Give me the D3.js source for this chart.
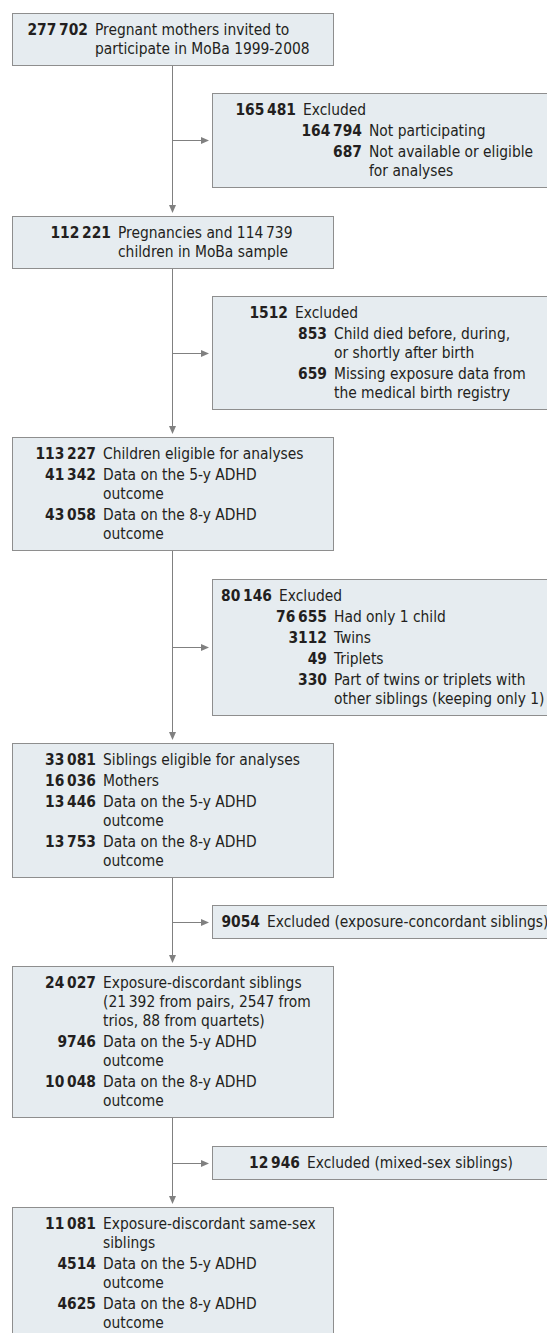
<!DOCTYPE html>
<html>
<head>
<meta charset="utf-8">
<title>MoBa sibling flowchart</title>
<style>
body { margin: 0; background: #fff; }
text { font-family: "DejaVu Sans Condensed", "DejaVu Sans", sans-serif; font-stretch: condensed; font-size: 15.4px; fill: #231f20; }
text.num { font-weight: bold; }
</style>
</head>
<body>
<script src="https://cdn.jsdelivr.net/npm/d3@7/dist/d3.min.js"></script>
<script>

var width  = 547;
var height = 1333;

// counts and labels, one pair of arrays per box
var invitedN      = [277702];
var invitedText   = [["Pregnant mothers invited to", "participate in MoBa 1999-2008"]];
var excl1N        = [165481, 164794, 687];
var excl1Text     = [["Excluded"], ["Not participating"], ["Not available or eligible", "for analyses"]];
var sampleN       = [112221];
var sampleText    = [["Pregnancies and 114\u2009739", "children in MoBa sample"]];
var excl2N        = [1512, 853, 659];
var excl2Text     = [["Excluded"], ["Child died before, during,", "or shortly after birth"], ["Missing exposure data from", "the medical birth registry"]];
var eligibleN     = [113227, 41342, 43058];
var eligibleText  = [["Children eligible for analyses"], ["Data on the 5-y ADHD", "outcome"], ["Data on the 8-y ADHD", "outcome"]];
var excl3N        = [80146, 76655, 3112, 49, 330];
var excl3Text     = [["Excluded"], ["Had only 1 child"], ["Twins"], ["Triplets"], ["Part of twins or triplets with", "other siblings (keeping only 1)"]];
var siblingsN     = [33081, 16036, 13446, 13753];
var siblingsText  = [["Siblings eligible for analyses"], ["Mothers"], ["Data on the 5-y ADHD", "outcome"], ["Data on the 8-y ADHD", "outcome"]];
var excl4N        = [9054];
var excl4Text     = [["Excluded (exposure-concordant siblings)"]];
var discordantN   = [24027, 9746, 10048];
var discordantText = [["Exposure-discordant siblings", "(21\u2009392 from pairs, 2547 from", "trios, 88 from quartets)"], ["Data on the 5-y ADHD", "outcome"], ["Data on the 8-y ADHD", "outcome"]];
var excl5N        = [12946];
var excl5Text     = [["Excluded (mixed-sex siblings)"]];
var sameSexN      = [11081, 4514, 4625];
var sameSexText   = [["Exposure-discordant same-sex", "siblings"], ["Data on the 5-y ADHD", "outcome"], ["Data on the 8-y ADHD", "outcome"]];

// layout
var mainX = 12, mainW = 321;
var exclX = 212, exclW = 360;
var trunkX = 172.5;
var lineH = 19, itemGap = 2, padY = 7, boxGap = 28.3, top0 = 13;
var textGap = 7;

// numX: right edge of the first number, right edge of the following numbers
var boxes = [
	{ n: invitedN,    t: invitedText,    side: "main", numX: [88] },
	{ n: excl1N,      t: excl1Text,      side: "excl", numX: [296, 362] },
	{ n: sampleN,     t: sampleText,     side: "main", numX: [111] },
	{ n: excl2N,      t: excl2Text,      side: "excl", numX: [288, 327] },
	{ n: eligibleN,   t: eligibleText,   side: "main", numX: [96, 96] },
	{ n: excl3N,      t: excl3Text,      side: "excl", numX: [272, 327] },
	{ n: siblingsN,   t: siblingsText,   side: "main", numX: [96, 96] },
	{ n: excl4N,      t: excl4Text,      side: "excl", numX: [260] },
	{ n: discordantN, t: discordantText, side: "main", numX: [96, 96] },
	{ n: excl5N,      t: excl5Text,      side: "excl", numX: [300] },
	{ n: sameSexN,    t: sameSexText,    side: "main", numX: [96, 96] }
];

var fmt = function(n){
	return n >= 10000 ? d3.format(",")(n).replace(/,/g, "\u2009") : String(n);
};

// stack the boxes
var y = top0;
boxes.forEach(function(b){
	var lines = d3.sum(b.t, function(d){ return d.length; });
	b.y = Math.round(y);
	b.h = padY * 2 + lines * lineH + itemGap * (b.t.length - 1);
	b.x = b.side === "main" ? mainX : exclX;
	b.w = b.side === "main" ? mainW : exclW;
	y += b.h + boxGap;
});

var svg = d3.select("body")
			.append("svg")
			.attr("width", width)
			.attr("height", height);

// connectors
var lineColor = "#808080";
var links = svg.append("g");
var mains = boxes.filter(function(b){ return b.side === "main"; });

function arrowDown(x, yTip){
	return "M" + (x - 3.5) + "," + (yTip - 8) + "L" + (x + 3.5) + "," + (yTip - 8) + "L" + x + "," + yTip + "Z";
}
function arrowRight(xTip, y){
	return "M" + (xTip - 8) + "," + (y - 3.5) + "L" + (xTip - 8) + "," + (y + 3.5) + "L" + xTip + "," + y + "Z";
}

for (var i = 1; i < mains.length; i++) {
	var a = mains[i - 1], b = mains[i];
	var tip = b.y - 3;
	links.append("line")
		.attr("x1", trunkX).attr("x2", trunkX)
		.attr("y1", a.y + a.h).attr("y2", tip - 6)
		.attr("stroke", lineColor).attr("stroke-width", 1);
	links.append("path").attr("d", arrowDown(trunkX, tip)).attr("fill", lineColor);
}

boxes.filter(function(b){ return b.side === "excl"; }).forEach(function(b){
	var cy = Math.round(b.y + b.h / 2) + 0.5;
	var tip = b.x - 3;
	links.append("line")
		.attr("x1", trunkX).attr("x2", tip - 6)
		.attr("y1", cy).attr("y2", cy)
		.attr("stroke", lineColor).attr("stroke-width", 1);
	links.append("path").attr("d", arrowRight(tip, cy)).attr("fill", lineColor);
});

// boxes
var g = svg.selectAll("g.box")
			.data(boxes)
			.enter()
			.append("g")
			.attr("class", "box");

g.append("rect")
	.attr("x", function(d){ return d.x + 0.5; })
	.attr("y", function(d){ return d.y + 0.5; })
	.attr("width", function(d){ return d.w; })
	.attr("height", function(d){ return d.h; })
	.attr("fill", "#e6ecf0")
	.attr("stroke", "#8e8e8e")
	.attr("stroke-width", 1);

g.each(function(b){
	var sel = d3.select(this);
	var cy = b.y + padY + lineH / 2;
	b.n.forEach(function(n, k){
		var nx = b.numX[k === 0 ? 0 : 1];
		sel.append("text")
			.attr("class", "num")
			.attr("x", nx)
			.attr("y", cy + 5)
			.attr("text-anchor", "end")
			.text(fmt(n));
		b.t[k].forEach(function(line, j){
			sel.append("text")
				.attr("x", nx + textGap)
				.attr("y", cy + j * lineH + 5)
				.text(line);
		});
		cy += b.t[k].length * lineH + itemGap;
	});
});

</script>
</body>
</html>
